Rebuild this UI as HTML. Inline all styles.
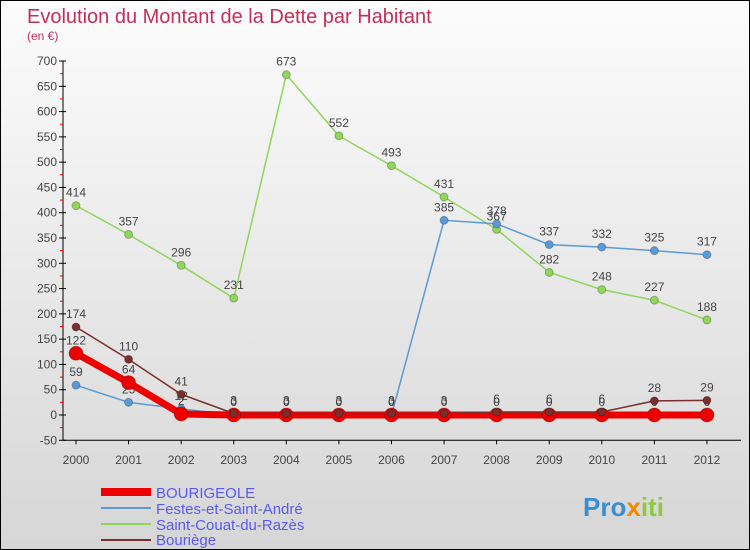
<!DOCTYPE html>
<html><head><meta charset="utf-8"><style>
body{margin:0}
#c{width:750px;height:550px;position:relative;background:linear-gradient(#fcfcfc,#d6d6d6);border:1px solid #000;box-sizing:border-box;overflow:hidden;font-family:"Liberation Sans",sans-serif}
</style></head><body>
<div id="c">
<svg id="s" width="750" height="550" xmlns="http://www.w3.org/2000/svg">
<text x="26" y="22" font-size="20" fill="#c0305a">Evolution du Montant de la Dette par Habitant</text>
<text x="26" y="39" font-size="12" fill="#c0305a">(en €)</text>
<g id="axes"></g><g id="series"></g>
<g font-size="15" fill="#5a5af0">
<rect x="100" y="487" width="50" height="8" fill="#ee0000"/>
<text x="155" y="497">BOURIGEOLE</text>
<line x1="100" y1="507" x2="150" y2="507" stroke="#5b9bd5" stroke-width="2"/>
<text x="155" y="513">Festes-et-Saint-André</text>
<line x1="100" y1="523" x2="150" y2="523" stroke="#8fd65a" stroke-width="2"/>
<text x="155" y="529">Saint-Couat-du-Razès</text>
<line x1="100" y1="539" x2="150" y2="539" stroke="#7a2e2e" stroke-width="2"/>
<text x="155" y="544">Bouriège</text>
</g>
<text x="582" y="515" font-size="26" font-weight="bold" fill="#3a8fd0">Pro<tspan fill="#f08a00">x</tspan><tspan fill="#8fc940">iti</tspan></text>
</svg></div>
<script>
const years=[2000,2001,2002,2003,2004,2005,2006,2007,2008,2009,2010,2011,2012];
const bourigeole=[122,64,2,0,0,0,0,0,0,0,0,0,0];
const festes=[59,25,12,0,0,0,0,385,378,337,332,325,317];
const couat=[414,357,296,231,673,552,493,431,367,282,248,227,188];
const bouriege=[174,110,41,3,3,3,3,3,6,6,6,28,29];
const yTicks=[-50,0,50,100,150,200,250,300,350,400,450,500,550,600,650,700];
const NS="http://www.w3.org/2000/svg";
const X=i=>75+i*52.58, Y=v=>414-v*0.5057;
function mk(t,a,p){const e=document.createElementNS(NS,t);for(const k in a)e.setAttribute(k,a[k]);p.appendChild(e);return e;}
const ax=document.getElementById('axes'),sg=document.getElementById('series');
let l=mk('line',{x1:62,y1:Y(700),x2:62,y2:Y(-50),stroke:'#000'},ax);


yTicks.forEach(v=>{mk('line',{x1:58,y1:Y(v),x2:65,y2:Y(v),stroke:'#000'},ax);
if(v<700)mk('line',{x1:59,y1:Y(v+25),x2:62,y2:Y(v+25),stroke:'#e00'},ax);
const t=mk('text',{x:56,y:Y(v)+4,'font-size':12,fill:'#444','text-anchor':'end'},ax);t.textContent=v;

});
mk('line',{x1:62,y1:Y(-50),x2:740,y2:Y(-50),stroke:'#000'},ax);
years.forEach((y,i)=>{mk('line',{x1:X(i),y1:Y(-50),x2:X(i),y2:Y(-50)+4,stroke:'#000'},ax);
const t=mk('text',{x:X(i),y:463,'font-size':12,fill:'#444','text-anchor':'middle'},ax);t.textContent=y;

});
function draw(d,col,w,r,name){const g=mk('g',{},sg);


mk('polyline',{points:d.map((v,i)=>X(i)+','+Y(v)).join(' '),fill:'none',stroke:col,'stroke-width':w},g);
d.forEach((v,i)=>{const c=mk('circle',{cx:X(i),cy:Y(v),r:r,fill:col,stroke:'rgba(0,0,0,0.25)'},g);


const t=mk('text',{x:X(i),y:Y(v)-9,'font-size':12,fill:'#444','text-anchor':'middle'},g);t.textContent=v;});}
draw(couat,'#8fd65a',1.5,4,'saint-couat');
draw(festes,'#5b9bd5',1.5,4,'festes');
draw(bourigeole,'#ee0000',7,7,'bourigeole');
draw(bouriege,'#7a2e2e',1.5,4,'bouriege');
</script></body></html>
